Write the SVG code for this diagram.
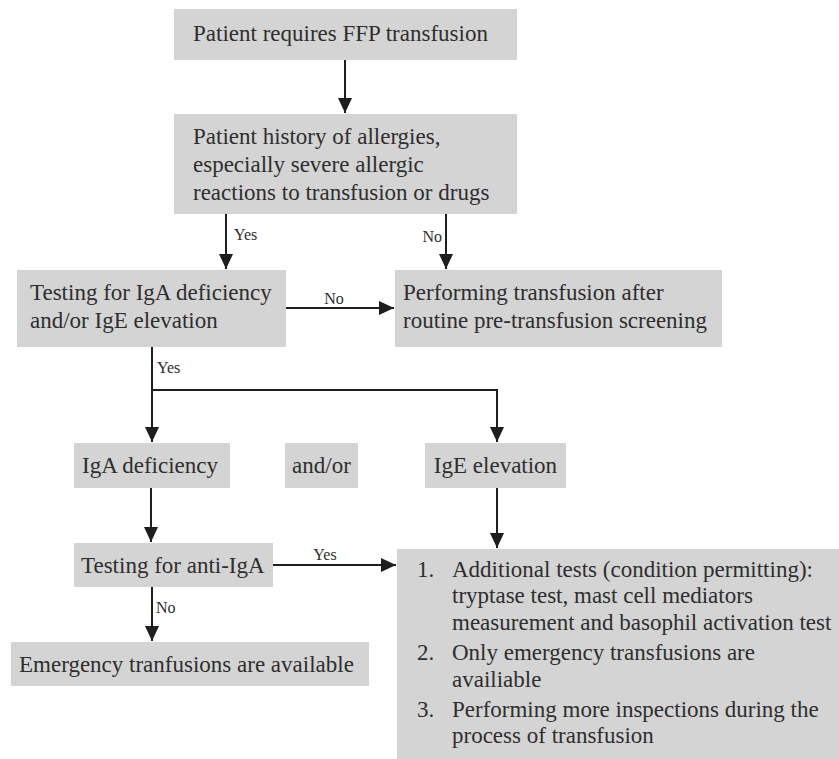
<svg xmlns="http://www.w3.org/2000/svg" width="839" height="759" viewBox="0 0 839 759">
<style>
.box{fill:#d4d4d4;}
.t{font-family:"Liberation Serif","Times New Roman",serif;font-size:23px;fill:#2e2e2e;}
.s{font-family:"Liberation Serif","Times New Roman",serif;font-size:16px;fill:#2e2e2e;}
.c{fill:none;stroke:#1e1e1e;stroke-width:2;}
.a{marker-end:url(#arr);}
</style>
<defs>
<marker id="arr" viewBox="0 0 15 14" refX="15" refY="7" markerWidth="15" markerHeight="14" markerUnits="userSpaceOnUse" orient="auto">
<path d="M0,0 L15,7 L0,14 z" fill="#1e1e1e"/>
</marker>
</defs>
<rect width="839" height="759" fill="#ffffff"/>

<g id="n1"><rect class="box" x="174" y="9" width="343" height="51"/><text class="t" x="193" y="41">Patient requires FFP transfusion</text></g>
<g id="n2"><rect class="box" x="174" y="114" width="343" height="100"/>
<text class="t" x="193" y="144">Patient history of allergies,</text>
<text class="t" x="193" y="172">especially severe allergic</text>
<text class="t" x="193" y="200">reactions to transfusion or drugs</text></g>
<g id="n3"><rect class="box" x="17" y="270" width="269" height="77"/>
<text class="t" x="30" y="300">Testing for IgA deficiency</text>
<text class="t" x="30" y="328">and/or IgE elevation</text></g>
<g id="n4"><rect class="box" x="395" y="270" width="327" height="77"/>
<text class="t" x="403" y="300">Performing transfusion after</text>
<text class="t" x="403" y="328">routine pre-transfusion screening</text></g>
<g id="n5"><rect class="box" x="74" y="443" width="156" height="45"/><text class="t" x="82" y="473">IgA deficiency</text></g>
<g id="n6"><rect class="box" x="285" y="443" width="73" height="45"/><text class="t" x="321.5" y="473" text-anchor="middle">and/or</text></g>
<g id="n7"><rect class="box" x="425" y="443" width="141" height="45"/><text class="t" x="495.5" y="473" text-anchor="middle">IgE elevation</text></g>
<g id="n8"><rect class="box" x="74" y="543" width="199" height="44"/><text class="t" x="81" y="573">Testing for anti-IgA</text></g>
<g id="n9"><rect class="box" x="11" y="642" width="358" height="44"/><text class="t" x="19" y="672">Emergency tranfusions are available</text></g>
<g id="n10"><rect class="box" x="397" y="549" width="450" height="220"/>
<text class="t" x="417" y="577">1.</text>
<text class="t" x="452" y="577">Additional tests (condition permitting):</text>
<text class="t" x="452" y="603">tryptase test, mast cell mediators</text>
<text class="t" x="452" y="630">measurement and basophil activation test</text>
<text class="t" x="417" y="660">2.</text>
<text class="t" x="452" y="660">Only emergency transfusions are</text>
<text class="t" x="452" y="687">availiable</text>
<text class="t" x="417" y="717">3.</text>
<text class="t" x="452" y="717">Performing more inspections during the</text>
<text class="t" x="452" y="743">process of transfusion</text></g>

<g id="connectors">
<line class="c a" x1="345" y1="60" x2="345" y2="113"/>
<line class="c a" x1="226" y1="214" x2="226" y2="269"/>
<text class="s" x="234" y="240">Yes</text>
<line class="c a" x1="446" y1="214" x2="446" y2="269"/>
<text class="s" x="442" y="242" text-anchor="end">No</text>
<line class="c a" x1="286" y1="308" x2="394" y2="308"/>
<text class="s" x="334" y="304" text-anchor="middle">No</text>
<line class="c a" x1="152" y1="347" x2="152" y2="442"/>
<text class="s" x="157" y="373">Yes</text>
<polyline class="c a" points="152,390 497,390 497,442"/>
<line class="c a" x1="151" y1="488" x2="151" y2="542"/>
<line class="c a" x1="497" y1="488" x2="497" y2="548"/>
<line class="c a" x1="273" y1="565" x2="396" y2="565"/>
<text class="s" x="325" y="560" text-anchor="middle">Yes</text>
<line class="c a" x1="152" y1="587" x2="152" y2="641"/>
<text class="s" x="156" y="613">No</text>
</g>
</svg>
